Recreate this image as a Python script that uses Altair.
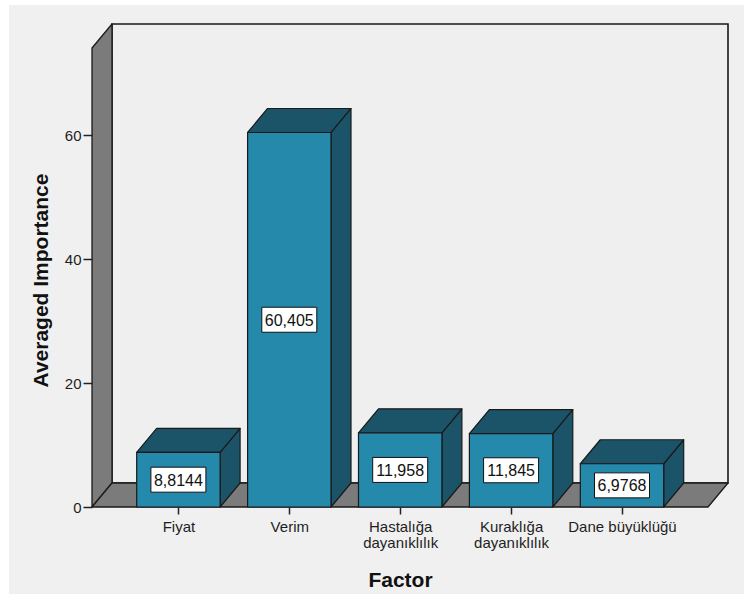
import altair as alt
import pandas as pd

# ---- data -------------------------------------------------------------
categories = [
    "Fiyat",
    "Verim",
    "Hastalığa dayanıklılık",
    "Kuraklığa dayanıklılık",
    "Dane büyüklüğü",
]
tick_label_lines = [
    ["Fiyat"],
    ["Verim"],
    ["Hastalığa", "dayanıklılık"],
    ["Kuraklığa", "dayanıklılık"],
    ["Dane büyüklüğü"],
]
importance = [8.8144, 60.405, 11.958, 11.845, 6.9768]
y_ticks = [0, 20, 40, 60]

# ---- layout / style ---------------------------------------------------
W, H = 636, 483                      # plot area (front-left floor corner to back-top corner)
PAD = {"left": 92, "top": 24, "right": 16, "bottom": 88}
SLOT_PX = 110.9                      # pixels between category centres
PX_PER_Y = 6.2                       # pixels per importance unit
X_LO = -0.779
X_HI = X_LO + W / SLOT_PX
Y_HI = H / PX_PER_Y
DX = 20 / SLOT_PX                    # 3-D depth offset, horizontal
DY = 24 / PX_PER_Y                   # 3-D depth offset, vertical
HALF = 0.376                         # half bar width
BOX_HW = 27.5 / SLOT_PX              # value box half width
BOX_HH = 12.5 / PX_PER_Y             # value box half height

FRONT = "#2589ab"
DARK = "#1b5469"
WALL = "#7b7b7b"
PANEL = "#f0f0f0"
EDGE = "#1a1a1a"
FONT = "Liberation Sans"

xscale = alt.Scale(domain=[X_LO, X_HI], nice=False, zero=False)
yscale = alt.Scale(domain=[0, Y_HI], nice=False, zero=False)

label_array = "[" + ",".join(
    "[" + ",".join("'" + s + "'" for s in lines) + "]" for lines in tick_label_lines
) + "]"

xaxis = alt.Axis(
    values=list(range(len(categories))),
    labelExpr=f"{label_array}[datum.value]",
    title="Factor",
    titleFontSize=21,
    titleFontWeight="bold",
    titleFont=FONT,
    titleColor="#111111",
    titleX=308,
    titleY=79,
    titleAlign="center",
    titleBaseline="alphabetic",
    labelFont=FONT,
    labelFontSize=15,
    labelColor="#1e1e1e",
    labelLineHeight=16.5,
    labelPadding=5,
    labelAngle=0,
    labelFlush=False,
    labelOverlap=False,
    tickSize=7,
    tickWidth=1.5,
    tickColor="#222222",
    domain=False,
    grid=False,
    zindex=1,
)
yaxis = alt.Axis(
    values=y_ticks,
    title="Averaged Importance",
    titleFontSize=21,
    titleFontWeight="bold",
    titleFont=FONT,
    titleColor="#111111",
    titleAngle=270,
    titleX=-51,
    titleY=256,
    titleAlign="center",
    titleBaseline="middle",
    labelFont=FONT,
    labelFontSize=15,
    labelColor="#1e1e1e",
    labelPadding=2,
    labelFlush=False,
    tickSize=9,
    tickWidth=1.5,
    tickColor="#222222",
    domain=False,
    grid=False,
    zindex=1,
)


def X():
    return alt.X("x:Q", scale=xscale, axis=xaxis)


def Y():
    return alt.Y("y:Q", scale=yscale, axis=yaxis, stack=False)


# ---- tables built from the data ----------------------------------------
bars = pd.DataFrame({
    "cat": categories,
    "idx": list(range(len(categories))),
    "value": importance,
})
bars["label"] = [f"{v:.5g}".replace(".", ",") for v in importance]

front = pd.DataFrame({
    "x": bars["idx"] - HALF,
    "x2": bars["idx"] + HALF,
    "y": 0.0,
    "y2": bars["value"],
})

side_rows, top_rows = [], []
for i, v in zip(bars["idx"], bars["value"]):
    side_rows += [
        {"bar": i, "x": i + HALF, "y": 0.0, "y2": v},
        {"bar": i, "x": i + HALF + DX, "y": DY, "y2": v + DY},
    ]
    top_rows += [
        {"bar": i, "x": i - HALF, "y": v, "y2": v},
        {"bar": i, "x": i - HALF + DX, "y": v, "y2": v + DY},
        {"bar": i, "x": i + HALF, "y": v, "y2": v + DY},
        {"bar": i, "x": i + HALF + DX, "y": v + DY, "y2": v + DY},
    ]
sides = pd.DataFrame(side_rows)
tops = pd.DataFrame(top_rows)

boxes = pd.DataFrame({
    "x": bars["idx"] - BOX_HW,
    "x2": bars["idx"] + BOX_HW,
    "y": bars["value"] / 2 - BOX_HH,
    "y2": bars["value"] / 2 + BOX_HH,
})
texts = pd.DataFrame({
    "x": bars["idx"],
    "y": bars["value"] / 2,
    "label": bars["label"],
})

back_wall = pd.DataFrame({"x": [X_LO + DX], "x2": [X_HI], "y": [DY], "y2": [Y_HI]})
left_wall = pd.DataFrame({"x": [X_LO, X_LO + DX], "y": [0.0, DY], "y2": [Y_HI - DY, Y_HI]})
floor = pd.DataFrame({
    "x": [X_LO, X_LO + DX, X_HI - DX, X_HI],
    "y": [0.0, 0.0, 0.0, DY],
    "y2": [0.0, DY, DY, DY],
})

# ---- layers -------------------------------------------------------------
panel = alt.Chart(alt.Data(values=[{}])).mark_rect(fill=PANEL).encode(
    x=alt.value(-83), x2=alt.value(652), y=alt.value(-19), y2=alt.value(570)
)

wall_back = alt.Chart(back_wall).mark_rect(
    fill="#efefef", stroke=EDGE, strokeWidth=1.6
).encode(x=X(), x2="x2:Q", y=Y(), y2="y2:Q")

wall_left = alt.Chart(left_wall).mark_area(
    orient="vertical", fill=WALL, stroke=EDGE, strokeWidth=1.3, strokeJoin="round"
).encode(x=X(), y=Y(), y2="y2:Q")

floor_layer = alt.Chart(floor).mark_area(
    orient="vertical", fill=WALL, stroke=EDGE, strokeWidth=1.3, strokeJoin="round"
).encode(x=X(), y=Y(), y2="y2:Q")

side_layer = alt.Chart(sides).mark_area(
    orient="vertical", fill=DARK, stroke=EDGE, strokeWidth=1.2, strokeJoin="round"
).encode(x=X(), y=Y(), y2="y2:Q", detail="bar:N")

top_layer = alt.Chart(tops).mark_area(
    orient="vertical", fill=DARK, stroke=EDGE, strokeWidth=1.2, strokeJoin="round"
).encode(x=X(), y=Y(), y2="y2:Q", detail="bar:N")

front_layer = alt.Chart(front).mark_rect(
    fill=FRONT, stroke=EDGE, strokeWidth=1.2
).encode(x=X(), x2="x2:Q", y=Y(), y2="y2:Q")

box_layer = alt.Chart(boxes).mark_rect(
    fill="white", stroke="#111111", strokeWidth=1
).encode(x=X(), x2="x2:Q", y=Y(), y2="y2:Q")

text_layer = alt.Chart(texts).mark_text(
    font=FONT, fontSize=16, color="#111111", align="center", baseline="middle", dy=1
).encode(x=X(), y=Y(), text="label:N")

chart = alt.layer(
    panel, wall_back, wall_left, floor_layer, side_layer, top_layer,
    front_layer, box_layer, text_layer,
).properties(
    width=W,
    height=H,
    autosize=alt.AutoSizeParams(type="none"),
    padding=PAD,
    background="white",
).configure_view(strokeWidth=0)

chart.save("out.html", embed_options={"renderer": "svg", "actions": False})
